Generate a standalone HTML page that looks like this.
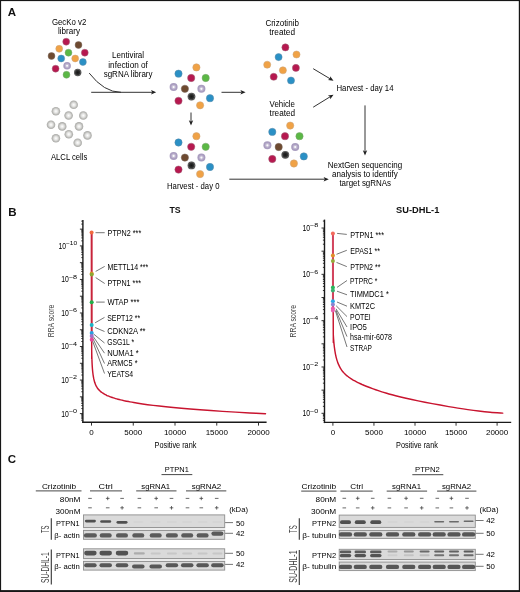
<!DOCTYPE html>
<html><head><meta charset="utf-8"><style>
html,body{margin:0;padding:0;background:#fff;}
body{width:520px;height:592px;overflow:hidden;font-family:"Liberation Sans", sans-serif;}
svg{display:block;will-change:transform;}
</style></head><body>
<svg width="520" height="592" viewBox="0 0 520 592" font-family='"Liberation Sans", sans-serif'>
<defs>
<radialGradient id="gg" cx="50%" cy="50%" r="50%"><stop offset="0" stop-color="#ffffff"/><stop offset="0.45" stop-color="#e2e2e0"/><stop offset="0.8" stop-color="#b9b9b6"/><stop offset="1" stop-color="#a9a9a6"/></radialGradient>
<radialGradient id="gk" cx="50%" cy="50%" r="50%"><stop offset="0" stop-color="#151515"/><stop offset="0.55" stop-color="#2e2e2e"/><stop offset="1" stop-color="#5a5a5a"/></radialGradient>
<filter id="blur2" x="-20%" y="-50%" width="140%" height="200%"><feGaussianBlur stdDeviation="0.4"/></filter>
</defs>
<rect x="0" y="0" width="520" height="592" fill="#fff"/>
<text x="7.80" y="15.80" font-size="11.5" font-weight="bold" fill="#111" >A</text>
<text x="8.20" y="216.00" font-size="11.5" font-weight="bold" fill="#111" >B</text>
<text x="7.80" y="462.90" font-size="11.5" font-weight="bold" fill="#111" >C</text>
<text x="51.90" y="25.10" font-size="8.2" textLength="34.40" lengthAdjust="spacingAndGlyphs" >GecKo v2</text>
<text x="58.00" y="34.20" font-size="8.2" textLength="22.10" lengthAdjust="spacingAndGlyphs" >library</text>
<text x="112.10" y="57.90" font-size="8.2" textLength="32.00" lengthAdjust="spacingAndGlyphs" >Lentiviral</text>
<text x="108.30" y="67.50" font-size="8.2" textLength="39.60" lengthAdjust="spacingAndGlyphs" >infection of</text>
<text x="103.70" y="76.70" font-size="8.2" textLength="48.80" lengthAdjust="spacingAndGlyphs" >sgRNA library</text>
<text x="51.00" y="159.90" font-size="8.2" textLength="36.30" lengthAdjust="spacingAndGlyphs" >ALCL cells</text>
<text x="167.00" y="189.10" font-size="8.2" textLength="52.50" lengthAdjust="spacingAndGlyphs" >Harvest - day 0</text>
<text x="265.40" y="25.60" font-size="8.2" textLength="33.50" lengthAdjust="spacingAndGlyphs" >Crizotinib</text>
<text x="269.30" y="34.90" font-size="8.2" textLength="25.70" lengthAdjust="spacingAndGlyphs" >treated</text>
<text x="269.60" y="106.80" font-size="8.2" textLength="25.40" lengthAdjust="spacingAndGlyphs" >Vehicle</text>
<text x="269.60" y="115.60" font-size="8.2" textLength="25.60" lengthAdjust="spacingAndGlyphs" >treated</text>
<text x="336.50" y="90.80" font-size="8.2" textLength="57.00" lengthAdjust="spacingAndGlyphs" >Harvest - day 14</text>
<text x="327.80" y="167.50" font-size="8.2" textLength="74.40" lengthAdjust="spacingAndGlyphs" >NextGen sequencing</text>
<text x="332.10" y="176.60" font-size="8.2" textLength="65.80" lengthAdjust="spacingAndGlyphs" >analysis to identify</text>
<text x="339.40" y="185.80" font-size="8.2" textLength="51.60" lengthAdjust="spacingAndGlyphs" >target sgRNAs</text>
<circle cx="66.20" cy="41.70" r="3.45" fill="#b6184f" stroke="#a0667a" stroke-width="0.5"/>
<circle cx="78.50" cy="45.00" r="3.45" fill="#6e4a30" stroke="#7a6a60" stroke-width="0.5"/>
<circle cx="59.20" cy="48.80" r="3.45" fill="#f0a246" stroke="#c9a27a" stroke-width="0.5"/>
<circle cx="68.50" cy="52.70" r="3.45" fill="#5bb845" stroke="#7aa070" stroke-width="0.5"/>
<circle cx="84.80" cy="52.70" r="3.45" fill="#b6184f" stroke="#a0667a" stroke-width="0.5"/>
<circle cx="51.50" cy="56.00" r="3.45" fill="#6e4a30" stroke="#7a6a60" stroke-width="0.5"/>
<circle cx="61.20" cy="58.50" r="3.45" fill="#2a90c5" stroke="#5e8aa8" stroke-width="0.5"/>
<circle cx="75.20" cy="58.50" r="3.45" fill="#f0a246" stroke="#c9a27a" stroke-width="0.5"/>
<circle cx="82.90" cy="62.00" r="3.45" fill="#2a90c5" stroke="#5e8aa8" stroke-width="0.5"/>
<circle cx="67.10" cy="65.80" r="3.80" fill="#a99dbf"/>
<circle cx="67.10" cy="65.80" r="2.22" fill="#c3bad3"/>
<circle cx="67.10" cy="65.80" r="1.04" fill="#fbfbfb"/>
<circle cx="55.60" cy="68.70" r="3.45" fill="#b6184f" stroke="#a0667a" stroke-width="0.5"/>
<circle cx="66.50" cy="74.80" r="3.45" fill="#5bb845" stroke="#7aa070" stroke-width="0.5"/>
<circle cx="77.70" cy="72.50" r="3.70" fill="url(#gk)"/>
<circle cx="77.70" cy="72.50" r="3.10" fill="none" stroke="#888" stroke-width="0.9" stroke-dasharray="0.6 0.9" opacity="0.8"/>
<circle cx="196.40" cy="67.40" r="3.65" fill="#f0a246" stroke="#c9a27a" stroke-width="0.5"/>
<circle cx="178.50" cy="73.70" r="3.65" fill="#2a90c5" stroke="#5e8aa8" stroke-width="0.5"/>
<circle cx="191.20" cy="78.00" r="3.65" fill="#b6184f" stroke="#a0667a" stroke-width="0.5"/>
<circle cx="205.70" cy="78.00" r="3.65" fill="#5bb845" stroke="#7aa070" stroke-width="0.5"/>
<circle cx="173.60" cy="87.10" r="4.00" fill="#a99dbf"/>
<circle cx="173.60" cy="87.10" r="2.34" fill="#c3bad3"/>
<circle cx="173.60" cy="87.10" r="1.09" fill="#fbfbfb"/>
<circle cx="184.90" cy="88.80" r="3.65" fill="#6e4a30" stroke="#7a6a60" stroke-width="0.5"/>
<circle cx="201.40" cy="88.80" r="4.00" fill="#a99dbf"/>
<circle cx="201.40" cy="88.80" r="2.34" fill="#c3bad3"/>
<circle cx="201.40" cy="88.80" r="1.09" fill="#fbfbfb"/>
<circle cx="191.50" cy="96.60" r="3.90" fill="url(#gk)"/>
<circle cx="191.50" cy="96.60" r="3.30" fill="none" stroke="#888" stroke-width="0.9" stroke-dasharray="0.6 0.9" opacity="0.8"/>
<circle cx="178.50" cy="100.80" r="3.65" fill="#b6184f" stroke="#a0667a" stroke-width="0.5"/>
<circle cx="210.00" cy="98.20" r="3.65" fill="#2a90c5" stroke="#5e8aa8" stroke-width="0.5"/>
<circle cx="200.10" cy="105.30" r="3.65" fill="#f0a246" stroke="#c9a27a" stroke-width="0.5"/>
<circle cx="196.40" cy="136.20" r="3.65" fill="#f0a246" stroke="#c9a27a" stroke-width="0.5"/>
<circle cx="178.50" cy="142.50" r="3.65" fill="#2a90c5" stroke="#5e8aa8" stroke-width="0.5"/>
<circle cx="191.20" cy="146.80" r="3.65" fill="#b6184f" stroke="#a0667a" stroke-width="0.5"/>
<circle cx="205.70" cy="146.80" r="3.65" fill="#5bb845" stroke="#7aa070" stroke-width="0.5"/>
<circle cx="173.60" cy="155.90" r="4.00" fill="#a99dbf"/>
<circle cx="173.60" cy="155.90" r="2.34" fill="#c3bad3"/>
<circle cx="173.60" cy="155.90" r="1.09" fill="#fbfbfb"/>
<circle cx="184.90" cy="157.60" r="3.65" fill="#6e4a30" stroke="#7a6a60" stroke-width="0.5"/>
<circle cx="201.40" cy="157.60" r="4.00" fill="#a99dbf"/>
<circle cx="201.40" cy="157.60" r="2.34" fill="#c3bad3"/>
<circle cx="201.40" cy="157.60" r="1.09" fill="#fbfbfb"/>
<circle cx="191.50" cy="165.40" r="3.90" fill="url(#gk)"/>
<circle cx="191.50" cy="165.40" r="3.30" fill="none" stroke="#888" stroke-width="0.9" stroke-dasharray="0.6 0.9" opacity="0.8"/>
<circle cx="178.50" cy="169.60" r="3.65" fill="#b6184f" stroke="#a0667a" stroke-width="0.5"/>
<circle cx="210.00" cy="167.00" r="3.65" fill="#2a90c5" stroke="#5e8aa8" stroke-width="0.5"/>
<circle cx="200.10" cy="174.10" r="3.65" fill="#f0a246" stroke="#c9a27a" stroke-width="0.5"/>
<circle cx="290.20" cy="125.60" r="3.65" fill="#f0a246" stroke="#c9a27a" stroke-width="0.5"/>
<circle cx="272.30" cy="131.90" r="3.65" fill="#2a90c5" stroke="#5e8aa8" stroke-width="0.5"/>
<circle cx="285.00" cy="136.20" r="3.65" fill="#b6184f" stroke="#a0667a" stroke-width="0.5"/>
<circle cx="299.50" cy="136.20" r="3.65" fill="#5bb845" stroke="#7aa070" stroke-width="0.5"/>
<circle cx="267.40" cy="145.30" r="4.00" fill="#a99dbf"/>
<circle cx="267.40" cy="145.30" r="2.34" fill="#c3bad3"/>
<circle cx="267.40" cy="145.30" r="1.09" fill="#fbfbfb"/>
<circle cx="278.70" cy="147.00" r="3.65" fill="#6e4a30" stroke="#7a6a60" stroke-width="0.5"/>
<circle cx="295.20" cy="147.00" r="4.00" fill="#a99dbf"/>
<circle cx="295.20" cy="147.00" r="2.34" fill="#c3bad3"/>
<circle cx="295.20" cy="147.00" r="1.09" fill="#fbfbfb"/>
<circle cx="285.30" cy="154.80" r="3.90" fill="url(#gk)"/>
<circle cx="285.30" cy="154.80" r="3.30" fill="none" stroke="#888" stroke-width="0.9" stroke-dasharray="0.6 0.9" opacity="0.8"/>
<circle cx="272.30" cy="159.00" r="3.65" fill="#b6184f" stroke="#a0667a" stroke-width="0.5"/>
<circle cx="303.80" cy="156.40" r="3.65" fill="#2a90c5" stroke="#5e8aa8" stroke-width="0.5"/>
<circle cx="293.90" cy="163.50" r="3.65" fill="#f0a246" stroke="#c9a27a" stroke-width="0.5"/>
<circle cx="285.40" cy="47.40" r="3.55" fill="#b6184f" stroke="#a0667a" stroke-width="0.5"/>
<circle cx="296.50" cy="54.50" r="3.55" fill="#f0a246" stroke="#c9a27a" stroke-width="0.5"/>
<circle cx="278.60" cy="57.10" r="3.55" fill="#2a90c5" stroke="#5e8aa8" stroke-width="0.5"/>
<circle cx="267.20" cy="64.70" r="3.55" fill="#f0a246" stroke="#c9a27a" stroke-width="0.5"/>
<circle cx="282.90" cy="70.30" r="3.55" fill="#f0a246" stroke="#c9a27a" stroke-width="0.5"/>
<circle cx="295.90" cy="67.90" r="3.55" fill="#b6184f" stroke="#a0667a" stroke-width="0.5"/>
<circle cx="273.70" cy="76.80" r="3.55" fill="#b6184f" stroke="#a0667a" stroke-width="0.5"/>
<circle cx="291.00" cy="80.50" r="3.55" fill="#2a90c5" stroke="#5e8aa8" stroke-width="0.5"/>
<circle cx="73.70" cy="104.80" r="4.3" fill="url(#gg)"/>
<circle cx="55.90" cy="111.20" r="4.3" fill="url(#gg)"/>
<circle cx="68.60" cy="115.50" r="4.3" fill="url(#gg)"/>
<circle cx="83.30" cy="115.50" r="4.3" fill="url(#gg)"/>
<circle cx="51.00" cy="124.70" r="4.3" fill="url(#gg)"/>
<circle cx="62.20" cy="126.40" r="4.3" fill="url(#gg)"/>
<circle cx="79.00" cy="126.40" r="4.3" fill="url(#gg)"/>
<circle cx="68.80" cy="134.20" r="4.3" fill="url(#gg)"/>
<circle cx="55.90" cy="138.30" r="4.3" fill="url(#gg)"/>
<circle cx="87.50" cy="135.40" r="4.3" fill="url(#gg)"/>
<circle cx="77.70" cy="142.70" r="4.3" fill="url(#gg)"/>
<path d="M89.2,73.1 Q104,92.3 121,92.3" fill="none" stroke="#333" stroke-width="1"/>
<line x1="91.20" y1="92.30" x2="152.20" y2="92.30" stroke="#333" stroke-width="1.0" />
<path d="M156.20,92.30 L151.00,94.50 L152.20,92.30 L151.00,90.10 Z" fill="#1e1e1e"/>
<line x1="221.50" y1="92.30" x2="241.60" y2="92.30" stroke="#333" stroke-width="1.0" />
<path d="M245.60,92.30 L240.40,94.50 L241.60,92.30 L240.40,90.10 Z" fill="#1e1e1e"/>
<line x1="191.00" y1="112.50" x2="191.00" y2="121.40" stroke="#333" stroke-width="1.0" />
<path d="M191.00,125.40 L188.80,120.20 L191.00,121.40 L193.20,120.20 Z" fill="#1e1e1e"/>
<line x1="313.20" y1="68.70" x2="330.06" y2="78.75" stroke="#333" stroke-width="1.0" />
<path d="M333.50,80.80 L327.91,80.03 L330.06,78.75 L330.16,76.25 Z" fill="#1e1e1e"/>
<line x1="313.20" y1="107.20" x2="330.09" y2="96.80" stroke="#333" stroke-width="1.0" />
<path d="M333.50,94.70 L330.23,99.30 L330.09,96.80 L327.92,95.55 Z" fill="#1e1e1e"/>
<line x1="365.00" y1="105.40" x2="365.00" y2="151.50" stroke="#333" stroke-width="1.0" />
<path d="M365.00,155.50 L362.80,150.30 L365.00,151.50 L367.20,150.30 Z" fill="#1e1e1e"/>
<line x1="229.30" y1="179.20" x2="324.80" y2="179.20" stroke="#333" stroke-width="1.0" />
<path d="M328.80,179.20 L323.60,181.40 L324.80,179.20 L323.60,177.00 Z" fill="#1e1e1e"/>
<text x="169.40" y="212.70" font-size="9.6" textLength="11.20" lengthAdjust="spacingAndGlyphs" font-weight="bold" fill="#111" >TS</text>
<text x="396.00" y="212.70" font-size="9.6" textLength="43.40" lengthAdjust="spacingAndGlyphs" font-weight="bold" fill="#111" >SU-DHL-1</text>
<line x1="82.90" y1="220.00" x2="82.90" y2="423.00" stroke="#1a1a1a" stroke-width="1.4" />
<line x1="82.20" y1="422.30" x2="266.60" y2="422.30" stroke="#1a1a1a" stroke-width="1.4" />
<line x1="79.90" y1="229.13" x2="82.90" y2="229.13" stroke="#1a1a1a" stroke-width="0.9" />
<line x1="81.30" y1="224.08" x2="82.90" y2="224.08" stroke="#1a1a1a" stroke-width="0.9" />
<line x1="81.30" y1="221.13" x2="82.90" y2="221.13" stroke="#1a1a1a" stroke-width="0.9" />
<line x1="79.90" y1="245.90" x2="82.90" y2="245.90" stroke="#1a1a1a" stroke-width="0.9" />
<line x1="81.30" y1="240.85" x2="82.90" y2="240.85" stroke="#1a1a1a" stroke-width="0.9" />
<line x1="81.30" y1="237.90" x2="82.90" y2="237.90" stroke="#1a1a1a" stroke-width="0.9" />
<line x1="81.30" y1="235.80" x2="82.90" y2="235.80" stroke="#1a1a1a" stroke-width="0.9" />
<line x1="81.30" y1="234.18" x2="82.90" y2="234.18" stroke="#1a1a1a" stroke-width="0.9" />
<line x1="81.30" y1="232.85" x2="82.90" y2="232.85" stroke="#1a1a1a" stroke-width="0.9" />
<line x1="81.30" y1="231.73" x2="82.90" y2="231.73" stroke="#1a1a1a" stroke-width="0.9" />
<line x1="81.30" y1="230.76" x2="82.90" y2="230.76" stroke="#1a1a1a" stroke-width="0.9" />
<line x1="81.30" y1="229.90" x2="82.90" y2="229.90" stroke="#1a1a1a" stroke-width="0.9" />
<line x1="79.90" y1="262.67" x2="82.90" y2="262.67" stroke="#1a1a1a" stroke-width="0.9" />
<line x1="81.30" y1="257.62" x2="82.90" y2="257.62" stroke="#1a1a1a" stroke-width="0.9" />
<line x1="81.30" y1="254.67" x2="82.90" y2="254.67" stroke="#1a1a1a" stroke-width="0.9" />
<line x1="81.30" y1="252.57" x2="82.90" y2="252.57" stroke="#1a1a1a" stroke-width="0.9" />
<line x1="81.30" y1="250.95" x2="82.90" y2="250.95" stroke="#1a1a1a" stroke-width="0.9" />
<line x1="81.30" y1="249.62" x2="82.90" y2="249.62" stroke="#1a1a1a" stroke-width="0.9" />
<line x1="81.30" y1="248.50" x2="82.90" y2="248.50" stroke="#1a1a1a" stroke-width="0.9" />
<line x1="81.30" y1="247.53" x2="82.90" y2="247.53" stroke="#1a1a1a" stroke-width="0.9" />
<line x1="81.30" y1="246.67" x2="82.90" y2="246.67" stroke="#1a1a1a" stroke-width="0.9" />
<line x1="79.90" y1="279.44" x2="82.90" y2="279.44" stroke="#1a1a1a" stroke-width="0.9" />
<line x1="81.30" y1="274.39" x2="82.90" y2="274.39" stroke="#1a1a1a" stroke-width="0.9" />
<line x1="81.30" y1="271.44" x2="82.90" y2="271.44" stroke="#1a1a1a" stroke-width="0.9" />
<line x1="81.30" y1="269.34" x2="82.90" y2="269.34" stroke="#1a1a1a" stroke-width="0.9" />
<line x1="81.30" y1="267.72" x2="82.90" y2="267.72" stroke="#1a1a1a" stroke-width="0.9" />
<line x1="81.30" y1="266.39" x2="82.90" y2="266.39" stroke="#1a1a1a" stroke-width="0.9" />
<line x1="81.30" y1="265.27" x2="82.90" y2="265.27" stroke="#1a1a1a" stroke-width="0.9" />
<line x1="81.30" y1="264.30" x2="82.90" y2="264.30" stroke="#1a1a1a" stroke-width="0.9" />
<line x1="81.30" y1="263.44" x2="82.90" y2="263.44" stroke="#1a1a1a" stroke-width="0.9" />
<line x1="79.90" y1="296.21" x2="82.90" y2="296.21" stroke="#1a1a1a" stroke-width="0.9" />
<line x1="81.30" y1="291.16" x2="82.90" y2="291.16" stroke="#1a1a1a" stroke-width="0.9" />
<line x1="81.30" y1="288.21" x2="82.90" y2="288.21" stroke="#1a1a1a" stroke-width="0.9" />
<line x1="81.30" y1="286.11" x2="82.90" y2="286.11" stroke="#1a1a1a" stroke-width="0.9" />
<line x1="81.30" y1="284.49" x2="82.90" y2="284.49" stroke="#1a1a1a" stroke-width="0.9" />
<line x1="81.30" y1="283.16" x2="82.90" y2="283.16" stroke="#1a1a1a" stroke-width="0.9" />
<line x1="81.30" y1="282.04" x2="82.90" y2="282.04" stroke="#1a1a1a" stroke-width="0.9" />
<line x1="81.30" y1="281.07" x2="82.90" y2="281.07" stroke="#1a1a1a" stroke-width="0.9" />
<line x1="81.30" y1="280.21" x2="82.90" y2="280.21" stroke="#1a1a1a" stroke-width="0.9" />
<line x1="79.90" y1="312.98" x2="82.90" y2="312.98" stroke="#1a1a1a" stroke-width="0.9" />
<line x1="81.30" y1="307.93" x2="82.90" y2="307.93" stroke="#1a1a1a" stroke-width="0.9" />
<line x1="81.30" y1="304.98" x2="82.90" y2="304.98" stroke="#1a1a1a" stroke-width="0.9" />
<line x1="81.30" y1="302.88" x2="82.90" y2="302.88" stroke="#1a1a1a" stroke-width="0.9" />
<line x1="81.30" y1="301.26" x2="82.90" y2="301.26" stroke="#1a1a1a" stroke-width="0.9" />
<line x1="81.30" y1="299.93" x2="82.90" y2="299.93" stroke="#1a1a1a" stroke-width="0.9" />
<line x1="81.30" y1="298.81" x2="82.90" y2="298.81" stroke="#1a1a1a" stroke-width="0.9" />
<line x1="81.30" y1="297.84" x2="82.90" y2="297.84" stroke="#1a1a1a" stroke-width="0.9" />
<line x1="81.30" y1="296.98" x2="82.90" y2="296.98" stroke="#1a1a1a" stroke-width="0.9" />
<line x1="79.90" y1="329.75" x2="82.90" y2="329.75" stroke="#1a1a1a" stroke-width="0.9" />
<line x1="81.30" y1="324.70" x2="82.90" y2="324.70" stroke="#1a1a1a" stroke-width="0.9" />
<line x1="81.30" y1="321.75" x2="82.90" y2="321.75" stroke="#1a1a1a" stroke-width="0.9" />
<line x1="81.30" y1="319.65" x2="82.90" y2="319.65" stroke="#1a1a1a" stroke-width="0.9" />
<line x1="81.30" y1="318.03" x2="82.90" y2="318.03" stroke="#1a1a1a" stroke-width="0.9" />
<line x1="81.30" y1="316.70" x2="82.90" y2="316.70" stroke="#1a1a1a" stroke-width="0.9" />
<line x1="81.30" y1="315.58" x2="82.90" y2="315.58" stroke="#1a1a1a" stroke-width="0.9" />
<line x1="81.30" y1="314.61" x2="82.90" y2="314.61" stroke="#1a1a1a" stroke-width="0.9" />
<line x1="81.30" y1="313.75" x2="82.90" y2="313.75" stroke="#1a1a1a" stroke-width="0.9" />
<line x1="79.90" y1="346.52" x2="82.90" y2="346.52" stroke="#1a1a1a" stroke-width="0.9" />
<line x1="81.30" y1="341.47" x2="82.90" y2="341.47" stroke="#1a1a1a" stroke-width="0.9" />
<line x1="81.30" y1="338.52" x2="82.90" y2="338.52" stroke="#1a1a1a" stroke-width="0.9" />
<line x1="81.30" y1="336.42" x2="82.90" y2="336.42" stroke="#1a1a1a" stroke-width="0.9" />
<line x1="81.30" y1="334.80" x2="82.90" y2="334.80" stroke="#1a1a1a" stroke-width="0.9" />
<line x1="81.30" y1="333.47" x2="82.90" y2="333.47" stroke="#1a1a1a" stroke-width="0.9" />
<line x1="81.30" y1="332.35" x2="82.90" y2="332.35" stroke="#1a1a1a" stroke-width="0.9" />
<line x1="81.30" y1="331.38" x2="82.90" y2="331.38" stroke="#1a1a1a" stroke-width="0.9" />
<line x1="81.30" y1="330.52" x2="82.90" y2="330.52" stroke="#1a1a1a" stroke-width="0.9" />
<line x1="79.90" y1="363.29" x2="82.90" y2="363.29" stroke="#1a1a1a" stroke-width="0.9" />
<line x1="81.30" y1="358.24" x2="82.90" y2="358.24" stroke="#1a1a1a" stroke-width="0.9" />
<line x1="81.30" y1="355.29" x2="82.90" y2="355.29" stroke="#1a1a1a" stroke-width="0.9" />
<line x1="81.30" y1="353.19" x2="82.90" y2="353.19" stroke="#1a1a1a" stroke-width="0.9" />
<line x1="81.30" y1="351.57" x2="82.90" y2="351.57" stroke="#1a1a1a" stroke-width="0.9" />
<line x1="81.30" y1="350.24" x2="82.90" y2="350.24" stroke="#1a1a1a" stroke-width="0.9" />
<line x1="81.30" y1="349.12" x2="82.90" y2="349.12" stroke="#1a1a1a" stroke-width="0.9" />
<line x1="81.30" y1="348.15" x2="82.90" y2="348.15" stroke="#1a1a1a" stroke-width="0.9" />
<line x1="81.30" y1="347.29" x2="82.90" y2="347.29" stroke="#1a1a1a" stroke-width="0.9" />
<line x1="79.90" y1="380.06" x2="82.90" y2="380.06" stroke="#1a1a1a" stroke-width="0.9" />
<line x1="81.30" y1="375.01" x2="82.90" y2="375.01" stroke="#1a1a1a" stroke-width="0.9" />
<line x1="81.30" y1="372.06" x2="82.90" y2="372.06" stroke="#1a1a1a" stroke-width="0.9" />
<line x1="81.30" y1="369.96" x2="82.90" y2="369.96" stroke="#1a1a1a" stroke-width="0.9" />
<line x1="81.30" y1="368.34" x2="82.90" y2="368.34" stroke="#1a1a1a" stroke-width="0.9" />
<line x1="81.30" y1="367.01" x2="82.90" y2="367.01" stroke="#1a1a1a" stroke-width="0.9" />
<line x1="81.30" y1="365.89" x2="82.90" y2="365.89" stroke="#1a1a1a" stroke-width="0.9" />
<line x1="81.30" y1="364.92" x2="82.90" y2="364.92" stroke="#1a1a1a" stroke-width="0.9" />
<line x1="81.30" y1="364.06" x2="82.90" y2="364.06" stroke="#1a1a1a" stroke-width="0.9" />
<line x1="79.90" y1="396.83" x2="82.90" y2="396.83" stroke="#1a1a1a" stroke-width="0.9" />
<line x1="81.30" y1="391.78" x2="82.90" y2="391.78" stroke="#1a1a1a" stroke-width="0.9" />
<line x1="81.30" y1="388.83" x2="82.90" y2="388.83" stroke="#1a1a1a" stroke-width="0.9" />
<line x1="81.30" y1="386.73" x2="82.90" y2="386.73" stroke="#1a1a1a" stroke-width="0.9" />
<line x1="81.30" y1="385.11" x2="82.90" y2="385.11" stroke="#1a1a1a" stroke-width="0.9" />
<line x1="81.30" y1="383.78" x2="82.90" y2="383.78" stroke="#1a1a1a" stroke-width="0.9" />
<line x1="81.30" y1="382.66" x2="82.90" y2="382.66" stroke="#1a1a1a" stroke-width="0.9" />
<line x1="81.30" y1="381.69" x2="82.90" y2="381.69" stroke="#1a1a1a" stroke-width="0.9" />
<line x1="81.30" y1="380.83" x2="82.90" y2="380.83" stroke="#1a1a1a" stroke-width="0.9" />
<line x1="79.90" y1="413.60" x2="82.90" y2="413.60" stroke="#1a1a1a" stroke-width="0.9" />
<line x1="81.30" y1="408.55" x2="82.90" y2="408.55" stroke="#1a1a1a" stroke-width="0.9" />
<line x1="81.30" y1="405.60" x2="82.90" y2="405.60" stroke="#1a1a1a" stroke-width="0.9" />
<line x1="81.30" y1="403.50" x2="82.90" y2="403.50" stroke="#1a1a1a" stroke-width="0.9" />
<line x1="81.30" y1="401.88" x2="82.90" y2="401.88" stroke="#1a1a1a" stroke-width="0.9" />
<line x1="81.30" y1="400.55" x2="82.90" y2="400.55" stroke="#1a1a1a" stroke-width="0.9" />
<line x1="81.30" y1="399.43" x2="82.90" y2="399.43" stroke="#1a1a1a" stroke-width="0.9" />
<line x1="81.30" y1="398.46" x2="82.90" y2="398.46" stroke="#1a1a1a" stroke-width="0.9" />
<line x1="81.30" y1="397.60" x2="82.90" y2="397.60" stroke="#1a1a1a" stroke-width="0.9" />
<line x1="81.30" y1="420.27" x2="82.90" y2="420.27" stroke="#1a1a1a" stroke-width="0.9" />
<line x1="81.30" y1="418.65" x2="82.90" y2="418.65" stroke="#1a1a1a" stroke-width="0.9" />
<line x1="81.30" y1="417.32" x2="82.90" y2="417.32" stroke="#1a1a1a" stroke-width="0.9" />
<line x1="81.30" y1="416.20" x2="82.90" y2="416.20" stroke="#1a1a1a" stroke-width="0.9" />
<line x1="81.30" y1="415.23" x2="82.90" y2="415.23" stroke="#1a1a1a" stroke-width="0.9" />
<line x1="81.30" y1="414.37" x2="82.90" y2="414.37" stroke="#1a1a1a" stroke-width="0.9" />
<text x="77.10" y="245.20" font-size="6.0" text-anchor="end" textLength="11.10" lengthAdjust="spacingAndGlyphs" >−10</text>
<text x="66.00" y="248.80" font-size="8.8" text-anchor="end" textLength="7.60" lengthAdjust="spacingAndGlyphs" >10</text>
<text x="77.10" y="278.74" font-size="6.0" text-anchor="end" textLength="8.20" lengthAdjust="spacingAndGlyphs" >−8</text>
<text x="68.90" y="282.34" font-size="8.8" text-anchor="end" textLength="7.60" lengthAdjust="spacingAndGlyphs" >10</text>
<text x="77.10" y="312.28" font-size="6.0" text-anchor="end" textLength="8.20" lengthAdjust="spacingAndGlyphs" >−6</text>
<text x="68.90" y="315.88" font-size="8.8" text-anchor="end" textLength="7.60" lengthAdjust="spacingAndGlyphs" >10</text>
<text x="77.10" y="345.82" font-size="6.0" text-anchor="end" textLength="8.20" lengthAdjust="spacingAndGlyphs" >−4</text>
<text x="68.90" y="349.42" font-size="8.8" text-anchor="end" textLength="7.60" lengthAdjust="spacingAndGlyphs" >10</text>
<text x="77.10" y="379.36" font-size="6.0" text-anchor="end" textLength="8.20" lengthAdjust="spacingAndGlyphs" >−2</text>
<text x="68.90" y="382.96" font-size="8.8" text-anchor="end" textLength="7.60" lengthAdjust="spacingAndGlyphs" >10</text>
<text x="77.10" y="412.90" font-size="6.0" text-anchor="end" textLength="8.20" lengthAdjust="spacingAndGlyphs" >−0</text>
<text x="68.90" y="416.50" font-size="8.8" text-anchor="end" textLength="7.60" lengthAdjust="spacingAndGlyphs" >10</text>
<line x1="91.50" y1="422.30" x2="91.50" y2="425.60" stroke="#1a1a1a" stroke-width="0.9" />
<text x="91.50" y="434.50" font-size="8.0" text-anchor="middle" >0</text>
<line x1="133.25" y1="422.30" x2="133.25" y2="425.60" stroke="#1a1a1a" stroke-width="0.9" />
<text x="133.25" y="434.50" font-size="8.0" text-anchor="middle" >5000</text>
<line x1="175.00" y1="422.30" x2="175.00" y2="425.60" stroke="#1a1a1a" stroke-width="0.9" />
<text x="175.00" y="434.50" font-size="8.0" text-anchor="middle" >10000</text>
<line x1="216.75" y1="422.30" x2="216.75" y2="425.60" stroke="#1a1a1a" stroke-width="0.9" />
<text x="216.75" y="434.50" font-size="8.0" text-anchor="middle" >15000</text>
<line x1="258.50" y1="422.30" x2="258.50" y2="425.60" stroke="#1a1a1a" stroke-width="0.9" />
<text x="258.50" y="434.50" font-size="8.0" text-anchor="middle" >20000</text>
<text x="175.50" y="448.10" font-size="8.2" text-anchor="middle" textLength="41.80" lengthAdjust="spacingAndGlyphs" >Positive rank</text>
<text x="0" y="0" font-size="8.2" text-anchor="middle" fill="#444444" transform="translate(54.30,321.00) rotate(-90)" textLength="32.4" lengthAdjust="spacingAndGlyphs">RRA score</text>
<path d="M91.60,232.60 C91.62,252.15 91.68,330.25 91.70,349.91 C91.72,369.56 91.71,350.30 91.71,350.51 C91.71,350.72 91.72,350.93 91.72,351.15 C91.72,351.36 91.73,351.58 91.73,351.81 C91.74,352.04 91.74,352.27 91.75,352.50 C91.75,352.74 91.76,352.98 91.76,353.22 C91.77,353.47 91.77,353.71 91.78,353.97 C91.78,354.22 91.79,354.48 91.79,354.74 C91.80,355.00 91.81,355.26 91.81,355.53 C91.82,355.79 91.83,356.07 91.83,356.34 C91.84,356.61 91.85,356.89 91.86,357.17 C91.87,357.46 91.87,357.74 91.88,358.03 C91.89,358.31 91.90,358.61 91.91,358.90 C91.92,359.19 91.93,359.49 91.94,359.79 C91.95,360.08 91.96,360.39 91.98,360.69 C91.99,360.99 92.00,361.30 92.01,361.61 C92.03,361.91 92.04,362.22 92.05,362.54 C92.07,362.85 92.08,363.16 92.10,363.48 C92.11,363.79 92.13,364.11 92.15,364.43 C92.16,364.75 92.18,365.07 92.20,365.39 C92.22,365.71 92.24,366.04 92.26,366.36 C92.28,366.69 92.30,367.01 92.33,367.34 C92.35,367.67 92.37,367.99 92.40,368.32 C92.42,368.65 92.45,368.98 92.48,369.31 C92.51,369.64 92.53,369.97 92.56,370.30 C92.60,370.63 92.63,370.96 92.66,371.29 C92.69,371.62 92.73,371.95 92.77,372.28 C92.80,372.61 92.84,372.94 92.88,373.27 C92.92,373.60 92.96,373.93 93.01,374.26 C93.05,374.59 93.10,374.92 93.15,375.25 C93.20,375.57 93.25,375.90 93.30,376.23 C93.35,376.55 93.41,376.88 93.47,377.20 C93.53,377.53 93.59,377.85 93.65,378.17 C93.72,378.49 93.79,378.82 93.86,379.13 C93.93,379.45 94.00,379.77 94.08,380.09 C94.16,380.40 94.24,380.71 94.33,381.03 C94.41,381.34 94.50,381.65 94.60,381.96 C94.69,382.26 94.79,382.57 94.89,382.87 C95.00,383.17 95.11,383.48 95.22,383.77 C95.33,384.07 95.45,384.37 95.58,384.66 C95.70,384.95 95.83,385.24 95.97,385.53 C96.11,385.81 96.25,386.10 96.40,386.38 C96.56,386.66 96.71,386.94 96.88,387.21 C97.05,387.48 97.22,387.75 97.40,388.02 C97.59,388.29 97.78,388.55 97.98,388.81 C98.18,389.07 98.39,389.33 98.61,389.59 C98.83,389.84 99.06,390.09 99.30,390.34 C99.55,390.59 99.80,390.84 100.07,391.08 C100.33,391.33 100.61,391.57 100.91,391.81 C101.20,392.05 101.51,392.29 101.83,392.52 C102.15,392.76 102.49,392.99 102.84,393.22 C103.20,393.45 103.57,393.68 103.95,393.91 C104.34,394.14 104.75,394.37 105.18,394.60 C105.61,394.82 106.05,395.05 106.52,395.27 C106.99,395.49 107.48,395.72 108.00,395.94 C108.52,396.16 109.06,396.38 109.63,396.60 C110.19,396.82 110.79,397.04 111.41,397.26 C112.04,397.48 112.69,397.70 113.37,397.92 C114.06,398.14 114.78,398.36 115.53,398.58 C116.29,398.80 117.07,399.02 117.90,399.24 C118.73,399.46 119.59,399.68 120.51,399.90 C121.42,400.12 122.37,400.34 123.37,400.56 C124.37,400.78 125.41,401.01 126.52,401.23 C127.62,401.45 128.76,401.68 129.97,401.90 C131.18,402.13 132.45,402.36 133.77,402.58 C135.10,402.81 136.49,403.04 137.95,403.27 C139.41,403.50 140.94,403.73 142.54,403.96 C144.15,404.19 145.82,404.43 147.59,404.66 C149.35,404.89 151.19,405.13 153.13,405.37 C155.07,405.60 157.10,405.84 159.23,406.08 C161.36,406.32 163.58,406.56 165.93,406.81 C168.27,407.05 170.71,407.29 173.29,407.54 C175.87,407.78 178.55,408.03 181.38,408.28 C184.21,408.53 187.16,408.78 190.27,409.03 C193.38,409.28 196.63,409.54 200.05,409.79 C203.47,410.05 207.03,410.31 210.79,410.57 C214.55,410.83 218.46,411.09 222.59,411.35 C226.72,411.62 231.03,411.88 235.57,412.15 C240.11,412.42 244.84,412.69 249.83,412.96 C254.82,413.23 262.89,413.64 265.50,413.78" fill="none" stroke="#c8142f" stroke-width="1.45" stroke-linejoin="round" stroke-linecap="round"/>
<line x1="91.60" y1="232.60" x2="91.60" y2="340.00" stroke="#c8243a" stroke-width="1.7" />
<line x1="95.50" y1="232.70" x2="104.70" y2="232.70" stroke="#4a4a4a" stroke-width="0.75" />
<text x="107.60" y="235.50" font-size="8.2" textLength="33.60" lengthAdjust="spacingAndGlyphs" >PTPN2 ***</text>
<line x1="95.70" y1="271.40" x2="104.70" y2="266.40" stroke="#4a4a4a" stroke-width="0.75" />
<text x="107.40" y="269.80" font-size="8.2" textLength="40.80" lengthAdjust="spacingAndGlyphs" >METTL14 ***</text>
<line x1="95.70" y1="277.60" x2="104.70" y2="283.50" stroke="#4a4a4a" stroke-width="0.75" />
<text x="107.40" y="286.20" font-size="8.2" textLength="33.60" lengthAdjust="spacingAndGlyphs" >PTPN1 ***</text>
<line x1="96.10" y1="302.10" x2="104.70" y2="302.10" stroke="#4a4a4a" stroke-width="0.75" />
<text x="107.40" y="305.00" font-size="8.2" textLength="32.00" lengthAdjust="spacingAndGlyphs" >WTAP ***</text>
<line x1="95.10" y1="322.80" x2="104.50" y2="317.40" stroke="#4a4a4a" stroke-width="0.75" />
<text x="107.20" y="320.80" font-size="8.2" textLength="33.00" lengthAdjust="spacingAndGlyphs" >SEPT12 **</text>
<line x1="95.10" y1="327.50" x2="104.50" y2="331.50" stroke="#4a4a4a" stroke-width="0.75" />
<text x="107.20" y="334.20" font-size="8.2" textLength="38.40" lengthAdjust="spacingAndGlyphs" >CDKN2A **</text>
<line x1="93.60" y1="334.00" x2="104.50" y2="343.00" stroke="#4a4a4a" stroke-width="0.75" />
<text x="107.20" y="345.30" font-size="8.2" textLength="27.00" lengthAdjust="spacingAndGlyphs" >GSG1L *</text>
<line x1="93.20" y1="336.50" x2="104.50" y2="353.20" stroke="#4a4a4a" stroke-width="0.75" />
<text x="107.20" y="355.80" font-size="8.2" textLength="31.60" lengthAdjust="spacingAndGlyphs" >NUMA1 *</text>
<line x1="92.80" y1="338.20" x2="104.50" y2="363.50" stroke="#4a4a4a" stroke-width="0.75" />
<text x="107.20" y="366.30" font-size="8.2" textLength="30.30" lengthAdjust="spacingAndGlyphs" >ARMC5 *</text>
<line x1="92.40" y1="340.50" x2="104.50" y2="373.50" stroke="#4a4a4a" stroke-width="0.75" />
<text x="107.20" y="376.60" font-size="8.2" textLength="26.00" lengthAdjust="spacingAndGlyphs" >YEATS4</text>
<circle cx="91.60" cy="232.60" r="2.0" fill="#f06a40"/>
<circle cx="91.70" cy="273.40" r="2.0" fill="#e8902a"/>
<circle cx="91.70" cy="274.40" r="2.0" fill="#8aa832"/>
<circle cx="91.70" cy="302.20" r="2.0" fill="#22b04a"/>
<circle cx="91.70" cy="324.90" r="2.0" fill="#1ab8c8"/>
<circle cx="91.70" cy="333.10" r="2.0" fill="#2a9ee0"/>
<circle cx="91.70" cy="336.00" r="2.0" fill="#a070c8"/>
<circle cx="91.70" cy="339.70" r="2.0" fill="#e8489a"/>
<line x1="324.50" y1="219.60" x2="324.50" y2="423.10" stroke="#1a1a1a" stroke-width="1.4" />
<line x1="323.80" y1="422.40" x2="511.20" y2="422.40" stroke="#1a1a1a" stroke-width="1.4" />
<line x1="321.50" y1="228.02" x2="324.50" y2="228.02" stroke="#1a1a1a" stroke-width="0.9" />
<line x1="322.90" y1="221.05" x2="324.50" y2="221.05" stroke="#1a1a1a" stroke-width="0.9" />
<line x1="321.50" y1="251.18" x2="324.50" y2="251.18" stroke="#1a1a1a" stroke-width="0.9" />
<line x1="322.90" y1="244.21" x2="324.50" y2="244.21" stroke="#1a1a1a" stroke-width="0.9" />
<line x1="322.90" y1="240.13" x2="324.50" y2="240.13" stroke="#1a1a1a" stroke-width="0.9" />
<line x1="322.90" y1="237.24" x2="324.50" y2="237.24" stroke="#1a1a1a" stroke-width="0.9" />
<line x1="322.90" y1="234.99" x2="324.50" y2="234.99" stroke="#1a1a1a" stroke-width="0.9" />
<line x1="322.90" y1="233.16" x2="324.50" y2="233.16" stroke="#1a1a1a" stroke-width="0.9" />
<line x1="322.90" y1="231.61" x2="324.50" y2="231.61" stroke="#1a1a1a" stroke-width="0.9" />
<line x1="322.90" y1="230.26" x2="324.50" y2="230.26" stroke="#1a1a1a" stroke-width="0.9" />
<line x1="322.90" y1="229.08" x2="324.50" y2="229.08" stroke="#1a1a1a" stroke-width="0.9" />
<line x1="321.50" y1="274.34" x2="324.50" y2="274.34" stroke="#1a1a1a" stroke-width="0.9" />
<line x1="322.90" y1="267.37" x2="324.50" y2="267.37" stroke="#1a1a1a" stroke-width="0.9" />
<line x1="322.90" y1="263.29" x2="324.50" y2="263.29" stroke="#1a1a1a" stroke-width="0.9" />
<line x1="322.90" y1="260.40" x2="324.50" y2="260.40" stroke="#1a1a1a" stroke-width="0.9" />
<line x1="322.90" y1="258.15" x2="324.50" y2="258.15" stroke="#1a1a1a" stroke-width="0.9" />
<line x1="322.90" y1="256.32" x2="324.50" y2="256.32" stroke="#1a1a1a" stroke-width="0.9" />
<line x1="322.90" y1="254.77" x2="324.50" y2="254.77" stroke="#1a1a1a" stroke-width="0.9" />
<line x1="322.90" y1="253.42" x2="324.50" y2="253.42" stroke="#1a1a1a" stroke-width="0.9" />
<line x1="322.90" y1="252.24" x2="324.50" y2="252.24" stroke="#1a1a1a" stroke-width="0.9" />
<line x1="321.50" y1="297.50" x2="324.50" y2="297.50" stroke="#1a1a1a" stroke-width="0.9" />
<line x1="322.90" y1="290.53" x2="324.50" y2="290.53" stroke="#1a1a1a" stroke-width="0.9" />
<line x1="322.90" y1="286.45" x2="324.50" y2="286.45" stroke="#1a1a1a" stroke-width="0.9" />
<line x1="322.90" y1="283.56" x2="324.50" y2="283.56" stroke="#1a1a1a" stroke-width="0.9" />
<line x1="322.90" y1="281.31" x2="324.50" y2="281.31" stroke="#1a1a1a" stroke-width="0.9" />
<line x1="322.90" y1="279.48" x2="324.50" y2="279.48" stroke="#1a1a1a" stroke-width="0.9" />
<line x1="322.90" y1="277.93" x2="324.50" y2="277.93" stroke="#1a1a1a" stroke-width="0.9" />
<line x1="322.90" y1="276.58" x2="324.50" y2="276.58" stroke="#1a1a1a" stroke-width="0.9" />
<line x1="322.90" y1="275.40" x2="324.50" y2="275.40" stroke="#1a1a1a" stroke-width="0.9" />
<line x1="321.50" y1="320.66" x2="324.50" y2="320.66" stroke="#1a1a1a" stroke-width="0.9" />
<line x1="322.90" y1="313.69" x2="324.50" y2="313.69" stroke="#1a1a1a" stroke-width="0.9" />
<line x1="322.90" y1="309.61" x2="324.50" y2="309.61" stroke="#1a1a1a" stroke-width="0.9" />
<line x1="322.90" y1="306.72" x2="324.50" y2="306.72" stroke="#1a1a1a" stroke-width="0.9" />
<line x1="322.90" y1="304.47" x2="324.50" y2="304.47" stroke="#1a1a1a" stroke-width="0.9" />
<line x1="322.90" y1="302.64" x2="324.50" y2="302.64" stroke="#1a1a1a" stroke-width="0.9" />
<line x1="322.90" y1="301.09" x2="324.50" y2="301.09" stroke="#1a1a1a" stroke-width="0.9" />
<line x1="322.90" y1="299.74" x2="324.50" y2="299.74" stroke="#1a1a1a" stroke-width="0.9" />
<line x1="322.90" y1="298.56" x2="324.50" y2="298.56" stroke="#1a1a1a" stroke-width="0.9" />
<line x1="321.50" y1="343.82" x2="324.50" y2="343.82" stroke="#1a1a1a" stroke-width="0.9" />
<line x1="322.90" y1="336.85" x2="324.50" y2="336.85" stroke="#1a1a1a" stroke-width="0.9" />
<line x1="322.90" y1="332.77" x2="324.50" y2="332.77" stroke="#1a1a1a" stroke-width="0.9" />
<line x1="322.90" y1="329.88" x2="324.50" y2="329.88" stroke="#1a1a1a" stroke-width="0.9" />
<line x1="322.90" y1="327.63" x2="324.50" y2="327.63" stroke="#1a1a1a" stroke-width="0.9" />
<line x1="322.90" y1="325.80" x2="324.50" y2="325.80" stroke="#1a1a1a" stroke-width="0.9" />
<line x1="322.90" y1="324.25" x2="324.50" y2="324.25" stroke="#1a1a1a" stroke-width="0.9" />
<line x1="322.90" y1="322.90" x2="324.50" y2="322.90" stroke="#1a1a1a" stroke-width="0.9" />
<line x1="322.90" y1="321.72" x2="324.50" y2="321.72" stroke="#1a1a1a" stroke-width="0.9" />
<line x1="321.50" y1="366.98" x2="324.50" y2="366.98" stroke="#1a1a1a" stroke-width="0.9" />
<line x1="322.90" y1="360.01" x2="324.50" y2="360.01" stroke="#1a1a1a" stroke-width="0.9" />
<line x1="322.90" y1="355.93" x2="324.50" y2="355.93" stroke="#1a1a1a" stroke-width="0.9" />
<line x1="322.90" y1="353.04" x2="324.50" y2="353.04" stroke="#1a1a1a" stroke-width="0.9" />
<line x1="322.90" y1="350.79" x2="324.50" y2="350.79" stroke="#1a1a1a" stroke-width="0.9" />
<line x1="322.90" y1="348.96" x2="324.50" y2="348.96" stroke="#1a1a1a" stroke-width="0.9" />
<line x1="322.90" y1="347.41" x2="324.50" y2="347.41" stroke="#1a1a1a" stroke-width="0.9" />
<line x1="322.90" y1="346.06" x2="324.50" y2="346.06" stroke="#1a1a1a" stroke-width="0.9" />
<line x1="322.90" y1="344.88" x2="324.50" y2="344.88" stroke="#1a1a1a" stroke-width="0.9" />
<line x1="321.50" y1="390.14" x2="324.50" y2="390.14" stroke="#1a1a1a" stroke-width="0.9" />
<line x1="322.90" y1="383.17" x2="324.50" y2="383.17" stroke="#1a1a1a" stroke-width="0.9" />
<line x1="322.90" y1="379.09" x2="324.50" y2="379.09" stroke="#1a1a1a" stroke-width="0.9" />
<line x1="322.90" y1="376.20" x2="324.50" y2="376.20" stroke="#1a1a1a" stroke-width="0.9" />
<line x1="322.90" y1="373.95" x2="324.50" y2="373.95" stroke="#1a1a1a" stroke-width="0.9" />
<line x1="322.90" y1="372.12" x2="324.50" y2="372.12" stroke="#1a1a1a" stroke-width="0.9" />
<line x1="322.90" y1="370.57" x2="324.50" y2="370.57" stroke="#1a1a1a" stroke-width="0.9" />
<line x1="322.90" y1="369.22" x2="324.50" y2="369.22" stroke="#1a1a1a" stroke-width="0.9" />
<line x1="322.90" y1="368.04" x2="324.50" y2="368.04" stroke="#1a1a1a" stroke-width="0.9" />
<line x1="321.50" y1="413.30" x2="324.50" y2="413.30" stroke="#1a1a1a" stroke-width="0.9" />
<line x1="322.90" y1="406.33" x2="324.50" y2="406.33" stroke="#1a1a1a" stroke-width="0.9" />
<line x1="322.90" y1="402.25" x2="324.50" y2="402.25" stroke="#1a1a1a" stroke-width="0.9" />
<line x1="322.90" y1="399.36" x2="324.50" y2="399.36" stroke="#1a1a1a" stroke-width="0.9" />
<line x1="322.90" y1="397.11" x2="324.50" y2="397.11" stroke="#1a1a1a" stroke-width="0.9" />
<line x1="322.90" y1="395.28" x2="324.50" y2="395.28" stroke="#1a1a1a" stroke-width="0.9" />
<line x1="322.90" y1="393.73" x2="324.50" y2="393.73" stroke="#1a1a1a" stroke-width="0.9" />
<line x1="322.90" y1="392.38" x2="324.50" y2="392.38" stroke="#1a1a1a" stroke-width="0.9" />
<line x1="322.90" y1="391.20" x2="324.50" y2="391.20" stroke="#1a1a1a" stroke-width="0.9" />
<line x1="322.90" y1="420.27" x2="324.50" y2="420.27" stroke="#1a1a1a" stroke-width="0.9" />
<line x1="322.90" y1="418.44" x2="324.50" y2="418.44" stroke="#1a1a1a" stroke-width="0.9" />
<line x1="322.90" y1="416.89" x2="324.50" y2="416.89" stroke="#1a1a1a" stroke-width="0.9" />
<line x1="322.90" y1="415.54" x2="324.50" y2="415.54" stroke="#1a1a1a" stroke-width="0.9" />
<line x1="322.90" y1="414.36" x2="324.50" y2="414.36" stroke="#1a1a1a" stroke-width="0.9" />
<text x="318.30" y="227.32" font-size="6.0" text-anchor="end" textLength="8.20" lengthAdjust="spacingAndGlyphs" >−8</text>
<text x="310.10" y="230.92" font-size="8.8" text-anchor="end" textLength="7.60" lengthAdjust="spacingAndGlyphs" >10</text>
<text x="318.30" y="273.64" font-size="6.0" text-anchor="end" textLength="8.20" lengthAdjust="spacingAndGlyphs" >−6</text>
<text x="310.10" y="277.24" font-size="8.8" text-anchor="end" textLength="7.60" lengthAdjust="spacingAndGlyphs" >10</text>
<text x="318.30" y="319.96" font-size="6.0" text-anchor="end" textLength="8.20" lengthAdjust="spacingAndGlyphs" >−4</text>
<text x="310.10" y="323.56" font-size="8.8" text-anchor="end" textLength="7.60" lengthAdjust="spacingAndGlyphs" >10</text>
<text x="318.30" y="366.28" font-size="6.0" text-anchor="end" textLength="8.20" lengthAdjust="spacingAndGlyphs" >−2</text>
<text x="310.10" y="369.88" font-size="8.8" text-anchor="end" textLength="7.60" lengthAdjust="spacingAndGlyphs" >10</text>
<text x="318.30" y="412.60" font-size="6.0" text-anchor="end" textLength="8.20" lengthAdjust="spacingAndGlyphs" >−0</text>
<text x="310.10" y="416.20" font-size="8.8" text-anchor="end" textLength="7.60" lengthAdjust="spacingAndGlyphs" >10</text>
<line x1="332.90" y1="422.40" x2="332.90" y2="425.70" stroke="#1a1a1a" stroke-width="0.9" />
<text x="332.90" y="434.60" font-size="8.0" text-anchor="middle" >0</text>
<line x1="373.95" y1="422.40" x2="373.95" y2="425.70" stroke="#1a1a1a" stroke-width="0.9" />
<text x="373.95" y="434.60" font-size="8.0" text-anchor="middle" >5000</text>
<line x1="415.00" y1="422.40" x2="415.00" y2="425.70" stroke="#1a1a1a" stroke-width="0.9" />
<text x="415.00" y="434.60" font-size="8.0" text-anchor="middle" >10000</text>
<line x1="456.05" y1="422.40" x2="456.05" y2="425.70" stroke="#1a1a1a" stroke-width="0.9" />
<text x="456.05" y="434.60" font-size="8.0" text-anchor="middle" >15000</text>
<line x1="497.10" y1="422.40" x2="497.10" y2="425.70" stroke="#1a1a1a" stroke-width="0.9" />
<text x="497.10" y="434.60" font-size="8.0" text-anchor="middle" >20000</text>
<text x="417.00" y="448.20" font-size="8.2" text-anchor="middle" textLength="41.80" lengthAdjust="spacingAndGlyphs" >Positive rank</text>
<text x="0" y="0" font-size="8.2" text-anchor="middle" fill="#444444" transform="translate(296.40,321.20) rotate(-90)" textLength="32.4" lengthAdjust="spacingAndGlyphs">RRA score</text>
<path d="M332.90,233.20 C332.97,250.14 333.23,317.80 333.30,334.82 C333.37,351.84 333.32,335.14 333.33,335.31 C333.34,335.48 333.35,335.66 333.37,335.84 C333.38,336.02 333.39,336.21 333.40,336.40 C333.42,336.60 333.43,336.79 333.44,337.00 C333.46,337.20 333.47,337.41 333.49,337.62 C333.50,337.83 333.52,338.05 333.53,338.28 C333.55,338.50 333.57,338.73 333.58,338.96 C333.60,339.19 333.62,339.43 333.64,339.67 C333.66,339.91 333.68,340.16 333.70,340.41 C333.72,340.66 333.74,340.91 333.76,341.17 C333.78,341.43 333.81,341.69 333.83,341.95 C333.85,342.22 333.88,342.49 333.90,342.76 C333.93,343.04 333.95,343.31 333.98,343.59 C334.01,343.87 334.04,344.16 334.07,344.44 C334.10,344.73 334.13,345.02 334.16,345.31 C334.19,345.61 334.23,345.90 334.26,346.20 C334.30,346.50 334.33,346.80 334.37,347.11 C334.41,347.41 334.45,347.72 334.49,348.03 C334.53,348.34 334.57,348.65 334.61,348.96 C334.66,349.28 334.70,349.59 334.75,349.91 C334.80,350.23 334.85,350.55 334.90,350.87 C334.95,351.19 335.00,351.52 335.06,351.84 C335.11,352.17 335.17,352.49 335.23,352.82 C335.29,353.15 335.35,353.48 335.41,353.81 C335.48,354.14 335.54,354.47 335.61,354.81 C335.68,355.14 335.76,355.47 335.83,355.81 C335.91,356.14 335.98,356.48 336.06,356.82 C336.14,357.15 336.23,357.49 336.32,357.83 C336.40,358.16 336.49,358.50 336.59,358.84 C336.68,359.18 336.78,359.52 336.88,359.86 C336.98,360.19 337.09,360.53 337.20,360.87 C337.31,361.21 337.42,361.55 337.54,361.88 C337.66,362.22 337.78,362.56 337.91,362.90 C338.04,363.23 338.17,363.57 338.31,363.90 C338.45,364.24 338.59,364.57 338.74,364.91 C338.89,365.24 339.04,365.57 339.20,365.91 C339.36,366.24 339.53,366.57 339.71,366.90 C339.88,367.23 340.06,367.55 340.25,367.88 C340.43,368.21 340.63,368.53 340.83,368.85 C341.03,369.17 341.24,369.50 341.46,369.81 C341.68,370.13 341.91,370.45 342.14,370.77 C342.38,371.08 342.63,371.39 342.88,371.70 C343.14,372.01 343.40,372.32 343.68,372.63 C343.95,372.93 344.24,373.24 344.53,373.54 C344.83,373.84 345.14,374.14 345.46,374.44 C345.78,374.74 346.11,375.04 346.46,375.33 C346.81,375.63 347.16,375.93 347.54,376.22 C347.91,376.52 348.30,376.81 348.70,377.11 C349.11,377.40 349.53,377.70 349.96,378.00 C350.40,378.29 350.85,378.59 351.32,378.89 C351.79,379.19 352.28,379.49 352.79,379.79 C353.29,380.09 353.82,380.39 354.37,380.70 C354.92,381.00 355.49,381.31 356.08,381.62 C356.67,381.92 357.28,382.24 357.92,382.55 C358.56,382.86 359.22,383.18 359.91,383.50 C360.60,383.82 361.32,384.15 362.06,384.48 C362.81,384.80 363.58,385.14 364.39,385.47 C365.19,385.81 366.02,386.15 366.89,386.50 C367.76,386.84 368.66,387.19 369.60,387.55 C370.54,387.90 371.51,388.26 372.52,388.63 C373.53,389.00 374.58,389.37 375.67,389.75 C376.77,390.13 377.90,390.51 379.08,390.90 C380.26,391.29 381.48,391.69 382.76,392.09 C384.03,392.49 385.35,392.89 386.72,393.30 C388.10,393.71 389.52,394.12 391.01,394.53 C392.49,394.95 394.03,395.36 395.63,395.78 C397.24,396.20 398.90,396.62 400.63,397.04 C402.36,397.46 404.15,397.88 406.02,398.31 C407.89,398.73 409.82,399.15 411.84,399.57 C413.86,400.00 415.95,400.43 418.12,400.86 C420.30,401.30 422.56,401.74 424.91,402.20 C427.26,402.65 429.69,403.11 432.23,403.59 C434.77,404.07 437.40,404.57 440.14,405.07 C442.88,405.57 445.72,406.09 448.68,406.60 C451.63,407.11 454.70,407.63 457.89,408.13 C461.09,408.63 464.39,409.13 467.84,409.61 C471.29,410.08 474.86,410.54 478.58,410.97 C482.31,411.40 486.16,411.81 490.18,412.17 C494.20,412.53 500.61,412.98 502.70,413.14" fill="none" stroke="#c8142f" stroke-width="1.45" stroke-linejoin="round" stroke-linecap="round"/>
<line x1="332.90" y1="233.40" x2="332.90" y2="312.00" stroke="#d2455f" stroke-width="1.9" />
<line x1="337.10" y1="233.40" x2="346.80" y2="234.40" stroke="#4a4a4a" stroke-width="0.75" />
<text x="350.30" y="237.50" font-size="8.2" textLength="33.70" lengthAdjust="spacingAndGlyphs" >PTPN1 ***</text>
<line x1="336.50" y1="254.30" x2="346.80" y2="250.30" stroke="#4a4a4a" stroke-width="0.75" />
<text x="350.30" y="253.60" font-size="8.2" textLength="29.60" lengthAdjust="spacingAndGlyphs" >EPAS1 **</text>
<line x1="336.50" y1="262.40" x2="346.80" y2="266.60" stroke="#4a4a4a" stroke-width="0.75" />
<text x="350.30" y="269.80" font-size="8.2" textLength="30.20" lengthAdjust="spacingAndGlyphs" >PTPN2 **</text>
<line x1="337.00" y1="287.40" x2="347.00" y2="280.50" stroke="#4a4a4a" stroke-width="0.75" />
<text x="350.10" y="284.00" font-size="8.2" textLength="27.20" lengthAdjust="spacingAndGlyphs" >PTPRC *</text>
<line x1="337.00" y1="291.20" x2="347.00" y2="294.80" stroke="#4a4a4a" stroke-width="0.75" />
<text x="350.10" y="297.40" font-size="8.2" textLength="38.70" lengthAdjust="spacingAndGlyphs" >TIMMDC1 *</text>
<line x1="337.00" y1="302.00" x2="347.00" y2="306.20" stroke="#4a4a4a" stroke-width="0.75" />
<text x="350.10" y="309.40" font-size="8.2" textLength="24.90" lengthAdjust="spacingAndGlyphs" >KMT2C</text>
<line x1="336.20" y1="305.80" x2="347.00" y2="316.60" stroke="#4a4a4a" stroke-width="0.75" />
<text x="350.10" y="319.70" font-size="8.2" textLength="20.70" lengthAdjust="spacingAndGlyphs" >POTEI</text>
<line x1="336.00" y1="308.80" x2="347.00" y2="327.00" stroke="#4a4a4a" stroke-width="0.75" />
<text x="350.10" y="330.20" font-size="8.2" textLength="16.70" lengthAdjust="spacingAndGlyphs" >IPO5</text>
<line x1="335.80" y1="310.00" x2="347.00" y2="336.60" stroke="#4a4a4a" stroke-width="0.75" />
<text x="350.10" y="340.00" font-size="8.2" textLength="41.80" lengthAdjust="spacingAndGlyphs" >hsa-mir-6078</text>
<line x1="335.50" y1="311.00" x2="347.00" y2="347.00" stroke="#4a4a4a" stroke-width="0.75" />
<text x="350.10" y="350.50" font-size="8.2" textLength="21.80" lengthAdjust="spacingAndGlyphs" >STRAP</text>
<circle cx="332.90" cy="233.40" r="2.0" fill="#f26a5c"/>
<circle cx="332.90" cy="255.40" r="2.0" fill="#e0902a"/>
<circle cx="332.90" cy="261.00" r="2.0" fill="#94aa3a"/>
<circle cx="332.90" cy="287.60" r="2.0" fill="#2ab55a"/>
<circle cx="332.90" cy="290.60" r="2.0" fill="#3ab070"/>
<circle cx="332.90" cy="301.30" r="2.0" fill="#2aa8e8"/>
<circle cx="332.90" cy="304.60" r="2.0" fill="#8a86d2"/>
<circle cx="332.90" cy="308.60" r="2.0" fill="#e858a8"/>
<circle cx="332.90" cy="310.50" r="2.0" fill="#e860b0"/>
<text x="41.90" y="488.60" font-size="8.0" textLength="34.30" lengthAdjust="spacingAndGlyphs" >Crizotinib</text>
<line x1="35.80" y1="490.90" x2="81.50" y2="490.90" stroke="#333" stroke-width="0.9" />
<text x="98.60" y="488.60" font-size="8.0" textLength="14.10" lengthAdjust="spacingAndGlyphs" >Ctrl</text>
<line x1="90.00" y1="490.90" x2="122.00" y2="490.90" stroke="#333" stroke-width="0.9" />
<text x="141.30" y="488.60" font-size="8.0" textLength="28.90" lengthAdjust="spacingAndGlyphs" >sgRNA1</text>
<line x1="136.20" y1="490.90" x2="176.50" y2="490.90" stroke="#333" stroke-width="0.9" />
<text x="191.70" y="488.60" font-size="8.0" textLength="29.50" lengthAdjust="spacingAndGlyphs" >sgRNA2</text>
<line x1="186.00" y1="490.90" x2="226.30" y2="490.90" stroke="#333" stroke-width="0.9" />
<text x="164.80" y="472.20" font-size="8.0" textLength="24.00" lengthAdjust="spacingAndGlyphs" >PTPN1</text>
<line x1="161.50" y1="474.60" x2="192.30" y2="474.60" stroke="#333" stroke-width="0.9" />
<text x="80.40" y="502.10" font-size="8.0" text-anchor="end" textLength="20.60" lengthAdjust="spacingAndGlyphs" >80nM</text>
<text x="80.40" y="514.20" font-size="8.0" text-anchor="end" textLength="24.80" lengthAdjust="spacingAndGlyphs" >300nM</text>
<line x1="88.20" y1="498.40" x2="91.80" y2="498.40" stroke="#444" stroke-width="0.8" />
<line x1="88.20" y1="507.80" x2="91.80" y2="507.80" stroke="#444" stroke-width="0.8" />
<line x1="105.90" y1="498.40" x2="109.50" y2="498.40" stroke="#444" stroke-width="0.8" />
<line x1="107.70" y1="496.60" x2="107.70" y2="500.20" stroke="#444" stroke-width="0.8" />
<line x1="105.90" y1="507.80" x2="109.50" y2="507.80" stroke="#444" stroke-width="0.8" />
<line x1="120.30" y1="498.40" x2="123.90" y2="498.40" stroke="#444" stroke-width="0.8" />
<line x1="120.30" y1="507.80" x2="123.90" y2="507.80" stroke="#444" stroke-width="0.8" />
<line x1="122.10" y1="506.00" x2="122.10" y2="509.60" stroke="#444" stroke-width="0.8" />
<line x1="137.60" y1="498.40" x2="141.20" y2="498.40" stroke="#444" stroke-width="0.8" />
<line x1="137.60" y1="507.80" x2="141.20" y2="507.80" stroke="#444" stroke-width="0.8" />
<line x1="154.40" y1="498.40" x2="158.00" y2="498.40" stroke="#444" stroke-width="0.8" />
<line x1="156.20" y1="496.60" x2="156.20" y2="500.20" stroke="#444" stroke-width="0.8" />
<line x1="154.40" y1="507.80" x2="158.00" y2="507.80" stroke="#444" stroke-width="0.8" />
<line x1="169.70" y1="498.40" x2="173.30" y2="498.40" stroke="#444" stroke-width="0.8" />
<line x1="169.70" y1="507.80" x2="173.30" y2="507.80" stroke="#444" stroke-width="0.8" />
<line x1="171.50" y1="506.00" x2="171.50" y2="509.60" stroke="#444" stroke-width="0.8" />
<line x1="185.70" y1="498.40" x2="189.30" y2="498.40" stroke="#444" stroke-width="0.8" />
<line x1="185.70" y1="507.80" x2="189.30" y2="507.80" stroke="#444" stroke-width="0.8" />
<line x1="199.50" y1="498.40" x2="203.10" y2="498.40" stroke="#444" stroke-width="0.8" />
<line x1="201.30" y1="496.60" x2="201.30" y2="500.20" stroke="#444" stroke-width="0.8" />
<line x1="199.50" y1="507.80" x2="203.10" y2="507.80" stroke="#444" stroke-width="0.8" />
<line x1="214.90" y1="498.40" x2="218.50" y2="498.40" stroke="#444" stroke-width="0.8" />
<line x1="214.90" y1="507.80" x2="218.50" y2="507.80" stroke="#444" stroke-width="0.8" />
<line x1="216.70" y1="506.00" x2="216.70" y2="509.60" stroke="#444" stroke-width="0.8" />
<text x="229.20" y="511.80" font-size="8.0" textLength="18.80" lengthAdjust="spacingAndGlyphs" >(kDa)</text>
<text x="301.60" y="488.60" font-size="8.0" textLength="34.60" lengthAdjust="spacingAndGlyphs" >Crizotinib</text>
<line x1="301.20" y1="491.10" x2="336.50" y2="491.10" stroke="#333" stroke-width="0.9" />
<text x="350.30" y="488.60" font-size="8.0" textLength="12.70" lengthAdjust="spacingAndGlyphs" >Ctrl</text>
<line x1="340.40" y1="491.10" x2="372.70" y2="491.10" stroke="#333" stroke-width="0.9" />
<text x="392.10" y="488.60" font-size="8.0" textLength="28.90" lengthAdjust="spacingAndGlyphs" >sgRNA1</text>
<line x1="386.70" y1="491.10" x2="427.10" y2="491.10" stroke="#333" stroke-width="0.9" />
<text x="441.90" y="488.60" font-size="8.0" textLength="29.10" lengthAdjust="spacingAndGlyphs" >sgRNA2</text>
<line x1="437.10" y1="491.10" x2="476.40" y2="491.10" stroke="#333" stroke-width="0.9" />
<text x="415.00" y="471.80" font-size="8.0" textLength="24.80" lengthAdjust="spacingAndGlyphs" >PTPN2</text>
<line x1="412.30" y1="474.70" x2="443.30" y2="474.70" stroke="#333" stroke-width="0.9" />
<text x="336.20" y="502.40" font-size="8.0" text-anchor="end" textLength="20.60" lengthAdjust="spacingAndGlyphs" >80nM</text>
<text x="336.20" y="514.40" font-size="8.0" text-anchor="end" textLength="25.20" lengthAdjust="spacingAndGlyphs" >300nM</text>
<line x1="342.50" y1="498.30" x2="346.10" y2="498.30" stroke="#444" stroke-width="0.8" />
<line x1="342.50" y1="507.90" x2="346.10" y2="507.90" stroke="#444" stroke-width="0.8" />
<line x1="355.90" y1="498.30" x2="359.50" y2="498.30" stroke="#444" stroke-width="0.8" />
<line x1="357.70" y1="496.50" x2="357.70" y2="500.10" stroke="#444" stroke-width="0.8" />
<line x1="355.90" y1="507.90" x2="359.50" y2="507.90" stroke="#444" stroke-width="0.8" />
<line x1="370.90" y1="498.30" x2="374.50" y2="498.30" stroke="#444" stroke-width="0.8" />
<line x1="370.90" y1="507.90" x2="374.50" y2="507.90" stroke="#444" stroke-width="0.8" />
<line x1="372.70" y1="506.10" x2="372.70" y2="509.70" stroke="#444" stroke-width="0.8" />
<line x1="387.60" y1="498.30" x2="391.20" y2="498.30" stroke="#444" stroke-width="0.8" />
<line x1="387.60" y1="507.90" x2="391.20" y2="507.90" stroke="#444" stroke-width="0.8" />
<line x1="404.30" y1="498.30" x2="407.90" y2="498.30" stroke="#444" stroke-width="0.8" />
<line x1="406.10" y1="496.50" x2="406.10" y2="500.10" stroke="#444" stroke-width="0.8" />
<line x1="404.30" y1="507.90" x2="407.90" y2="507.90" stroke="#444" stroke-width="0.8" />
<line x1="419.90" y1="498.30" x2="423.50" y2="498.30" stroke="#444" stroke-width="0.8" />
<line x1="419.90" y1="507.90" x2="423.50" y2="507.90" stroke="#444" stroke-width="0.8" />
<line x1="421.70" y1="506.10" x2="421.70" y2="509.70" stroke="#444" stroke-width="0.8" />
<line x1="435.50" y1="498.30" x2="439.10" y2="498.30" stroke="#444" stroke-width="0.8" />
<line x1="435.50" y1="507.90" x2="439.10" y2="507.90" stroke="#444" stroke-width="0.8" />
<line x1="449.60" y1="498.30" x2="453.20" y2="498.30" stroke="#444" stroke-width="0.8" />
<line x1="451.40" y1="496.50" x2="451.40" y2="500.10" stroke="#444" stroke-width="0.8" />
<line x1="449.60" y1="507.90" x2="453.20" y2="507.90" stroke="#444" stroke-width="0.8" />
<line x1="465.20" y1="498.30" x2="468.80" y2="498.30" stroke="#444" stroke-width="0.8" />
<line x1="465.20" y1="507.90" x2="468.80" y2="507.90" stroke="#444" stroke-width="0.8" />
<line x1="467.00" y1="506.10" x2="467.00" y2="509.70" stroke="#444" stroke-width="0.8" />
<text x="479.60" y="511.60" font-size="8.0" textLength="18.90" lengthAdjust="spacingAndGlyphs" >(kDa)</text>
<rect x="83.0" y="527.5" width="142.2" height="3" fill="#ececec"/>
<rect x="83.0" y="558.5" width="142.2" height="3" fill="#ececec"/>
<rect x="83.50" y="514.90" width="141.20" height="12.60" fill="#dadada" stroke="#8e8e8e" stroke-width="0.9"/>
<rect x="83.50" y="530.50" width="141.20" height="8.80" fill="#dadada" stroke="#8e8e8e" stroke-width="0.9"/>
<rect x="83.50" y="548.80" width="141.20" height="9.70" fill="#dadada" stroke="#8e8e8e" stroke-width="0.9"/>
<rect x="83.50" y="561.50" width="141.20" height="8.60" fill="#dadada" stroke="#8e8e8e" stroke-width="0.9"/>
<rect x="338.7" y="527.5" width="137.1" height="3" fill="#ececec"/>
<rect x="338.7" y="559.5" width="137.1" height="3" fill="#ececec"/>
<rect x="339.20" y="515.10" width="136.10" height="12.30" fill="#dadada" stroke="#8e8e8e" stroke-width="0.9"/>
<rect x="339.20" y="530.50" width="136.10" height="7.90" fill="#dadada" stroke="#8e8e8e" stroke-width="0.9"/>
<rect x="339.20" y="549.30" width="136.10" height="10.20" fill="#dadada" stroke="#8e8e8e" stroke-width="0.9"/>
<rect x="339.20" y="562.10" width="136.10" height="8.50" fill="#dadada" stroke="#8e8e8e" stroke-width="0.9"/>
<text x="79.70" y="526.00" font-size="8.0" text-anchor="end" textLength="23.80" lengthAdjust="spacingAndGlyphs" >PTPN1</text>
<text x="79.80" y="538.40" font-size="8.0" text-anchor="end" textLength="25.50" lengthAdjust="spacingAndGlyphs" >β- actin</text>
<text x="79.70" y="557.90" font-size="8.0" text-anchor="end" textLength="23.80" lengthAdjust="spacingAndGlyphs" >PTPN1</text>
<text x="79.80" y="569.20" font-size="8.0" text-anchor="end" textLength="25.50" lengthAdjust="spacingAndGlyphs" >β- actin</text>
<line x1="51.30" y1="518.30" x2="51.30" y2="539.80" stroke="#333" stroke-width="1.1" />
<line x1="51.30" y1="549.60" x2="51.30" y2="584.60" stroke="#333" stroke-width="1.1" />
<text x="0" y="0" font-size="10.8" text-anchor="middle" fill="#444444" transform="translate(48.8,529.3) rotate(-90)" textLength="7.5" lengthAdjust="spacingAndGlyphs">TS</text>
<text x="0" y="0" font-size="10.2" text-anchor="middle" fill="#444444" transform="translate(48.5,567.6) rotate(-90)" textLength="30.8" lengthAdjust="spacingAndGlyphs">SU-DHL-1</text>
<line x1="225.10" y1="522.60" x2="233.00" y2="522.60" stroke="#666" stroke-width="0.9" />
<text x="236.00" y="525.60" font-size="8.0" textLength="8.60" lengthAdjust="spacingAndGlyphs" >50</text>
<line x1="225.10" y1="533.30" x2="233.00" y2="533.30" stroke="#666" stroke-width="0.9" />
<text x="236.00" y="536.30" font-size="8.0" textLength="8.60" lengthAdjust="spacingAndGlyphs" >42</text>
<line x1="225.10" y1="553.30" x2="233.00" y2="553.30" stroke="#666" stroke-width="0.9" />
<text x="236.00" y="556.30" font-size="8.0" textLength="8.60" lengthAdjust="spacingAndGlyphs" >50</text>
<line x1="225.10" y1="564.40" x2="233.00" y2="564.40" stroke="#666" stroke-width="0.9" />
<text x="236.00" y="567.40" font-size="8.0" textLength="8.60" lengthAdjust="spacingAndGlyphs" >42</text>
<text x="336.20" y="526.00" font-size="8.0" text-anchor="end" textLength="24.20" lengthAdjust="spacingAndGlyphs" >PTPN2</text>
<text x="336.20" y="538.30" font-size="8.0" text-anchor="end" textLength="33.90" lengthAdjust="spacingAndGlyphs" >β- tubulin</text>
<text x="336.20" y="557.60" font-size="8.0" text-anchor="end" textLength="24.20" lengthAdjust="spacingAndGlyphs" >PTPN2</text>
<text x="336.20" y="569.00" font-size="8.0" text-anchor="end" textLength="33.90" lengthAdjust="spacingAndGlyphs" >β- tubulin</text>
<line x1="299.30" y1="518.30" x2="299.30" y2="539.80" stroke="#333" stroke-width="1.1" />
<line x1="299.30" y1="550.00" x2="299.30" y2="585.00" stroke="#333" stroke-width="1.1" />
<text x="0" y="0" font-size="10.8" text-anchor="middle" fill="#444444" transform="translate(296.8,529.2) rotate(-90)" textLength="7.6" lengthAdjust="spacingAndGlyphs">TS</text>
<text x="0" y="0" font-size="10.2" text-anchor="middle" fill="#444444" transform="translate(296.6,566.6) rotate(-90)" textLength="32.4" lengthAdjust="spacingAndGlyphs">SU-DHL-1</text>
<line x1="475.50" y1="520.50" x2="483.60" y2="520.50" stroke="#666" stroke-width="0.9" />
<text x="486.20" y="523.20" font-size="8.0" textLength="8.80" lengthAdjust="spacingAndGlyphs" >42</text>
<line x1="475.50" y1="533.30" x2="483.60" y2="533.30" stroke="#666" stroke-width="0.9" />
<text x="486.20" y="536.00" font-size="8.0" textLength="8.80" lengthAdjust="spacingAndGlyphs" >50</text>
<line x1="475.50" y1="554.30" x2="483.60" y2="554.30" stroke="#666" stroke-width="0.9" />
<text x="486.20" y="557.00" font-size="8.0" textLength="8.80" lengthAdjust="spacingAndGlyphs" >42</text>
<line x1="475.50" y1="566.30" x2="483.60" y2="566.30" stroke="#666" stroke-width="0.9" />
<text x="486.20" y="569.00" font-size="8.0" textLength="8.80" lengthAdjust="spacingAndGlyphs" >50</text>
<rect x="84.90" y="519.75" width="11.00" height="2.70" rx="1.35" ry="1.35" fill="#444444" opacity="0.92" filter="url(#blur2)"/>
<rect x="83.90" y="533.20" width="13.00" height="4.40" rx="2.20" ry="2.20" fill="#444444" opacity="0.85" filter="url(#blur2)"/>
<rect x="84.15" y="550.80" width="12.50" height="4.60" rx="2.30" ry="2.30" fill="#444444" opacity="0.90" filter="url(#blur2)"/>
<rect x="84.15" y="563.20" width="12.50" height="4.00" rx="2.00" ry="2.00" fill="#444444" opacity="0.88" filter="url(#blur2)"/>
<rect x="100.20" y="520.15" width="11.00" height="2.70" rx="1.35" ry="1.35" fill="#444444" opacity="0.92" filter="url(#blur2)"/>
<rect x="99.70" y="533.20" width="12.00" height="4.40" rx="2.20" ry="2.20" fill="#444444" opacity="0.85" filter="url(#blur2)"/>
<rect x="99.45" y="550.80" width="12.50" height="4.60" rx="2.30" ry="2.30" fill="#444444" opacity="0.90" filter="url(#blur2)"/>
<rect x="99.45" y="563.20" width="12.50" height="4.00" rx="2.00" ry="2.00" fill="#444444" opacity="0.88" filter="url(#blur2)"/>
<rect x="116.50" y="520.95" width="11.00" height="2.70" rx="1.35" ry="1.35" fill="#444444" opacity="0.92" filter="url(#blur2)"/>
<rect x="116.00" y="533.20" width="12.00" height="4.40" rx="2.20" ry="2.20" fill="#444444" opacity="0.85" filter="url(#blur2)"/>
<rect x="115.75" y="550.80" width="12.50" height="4.60" rx="2.30" ry="2.30" fill="#444444" opacity="0.90" filter="url(#blur2)"/>
<rect x="115.75" y="563.20" width="12.50" height="4.00" rx="2.00" ry="2.00" fill="#444444" opacity="0.88" filter="url(#blur2)"/>
<rect x="133.30" y="521.20" width="10.00" height="1.60" rx="0.80" ry="0.80" fill="#444444" opacity="0.04" filter="url(#blur2)"/>
<rect x="132.30" y="533.20" width="12.00" height="4.40" rx="2.20" ry="2.20" fill="#444444" opacity="0.85" filter="url(#blur2)"/>
<rect x="133.80" y="552.30" width="11.00" height="2.20" rx="1.10" ry="1.10" fill="#444444" opacity="0.30" filter="url(#blur2)"/>
<rect x="132.05" y="564.50" width="12.50" height="4.00" rx="2.00" ry="2.00" fill="#444444" opacity="0.88" filter="url(#blur2)"/>
<rect x="150.70" y="521.20" width="10.00" height="1.60" rx="0.80" ry="0.80" fill="#444444" opacity="0.04" filter="url(#blur2)"/>
<rect x="149.70" y="533.20" width="12.00" height="4.40" rx="2.20" ry="2.20" fill="#444444" opacity="0.85" filter="url(#blur2)"/>
<rect x="150.70" y="552.60" width="10.00" height="2.00" rx="1.00" ry="1.00" fill="#444444" opacity="0.12" filter="url(#blur2)"/>
<rect x="149.45" y="564.50" width="12.50" height="4.00" rx="2.00" ry="2.00" fill="#444444" opacity="0.88" filter="url(#blur2)"/>
<rect x="166.90" y="521.20" width="10.00" height="1.60" rx="0.80" ry="0.80" fill="#444444" opacity="0.04" filter="url(#blur2)"/>
<rect x="165.90" y="533.20" width="12.00" height="4.40" rx="2.20" ry="2.20" fill="#444444" opacity="0.85" filter="url(#blur2)"/>
<rect x="166.90" y="552.60" width="10.00" height="2.00" rx="1.00" ry="1.00" fill="#444444" opacity="0.12" filter="url(#blur2)"/>
<rect x="165.65" y="563.20" width="12.50" height="4.00" rx="2.00" ry="2.00" fill="#444444" opacity="0.88" filter="url(#blur2)"/>
<rect x="182.20" y="521.20" width="10.00" height="1.60" rx="0.80" ry="0.80" fill="#444444" opacity="0.04" filter="url(#blur2)"/>
<rect x="181.20" y="533.20" width="12.00" height="4.40" rx="2.20" ry="2.20" fill="#444444" opacity="0.85" filter="url(#blur2)"/>
<rect x="182.20" y="552.60" width="10.00" height="2.00" rx="1.00" ry="1.00" fill="#444444" opacity="0.12" filter="url(#blur2)"/>
<rect x="180.95" y="563.20" width="12.50" height="4.00" rx="2.00" ry="2.00" fill="#444444" opacity="0.88" filter="url(#blur2)"/>
<rect x="197.60" y="521.20" width="10.00" height="1.60" rx="0.80" ry="0.80" fill="#444444" opacity="0.04" filter="url(#blur2)"/>
<rect x="196.60" y="533.20" width="12.00" height="4.40" rx="2.20" ry="2.20" fill="#444444" opacity="0.85" filter="url(#blur2)"/>
<rect x="197.60" y="552.60" width="10.00" height="2.00" rx="1.00" ry="1.00" fill="#444444" opacity="0.12" filter="url(#blur2)"/>
<rect x="196.35" y="563.20" width="12.50" height="4.00" rx="2.00" ry="2.00" fill="#444444" opacity="0.88" filter="url(#blur2)"/>
<rect x="212.40" y="521.20" width="10.00" height="1.60" rx="0.80" ry="0.80" fill="#444444" opacity="0.04" filter="url(#blur2)"/>
<rect x="211.40" y="531.40" width="12.00" height="4.40" rx="2.20" ry="2.20" fill="#444444" opacity="0.85" filter="url(#blur2)"/>
<rect x="212.40" y="552.60" width="10.00" height="2.00" rx="1.00" ry="1.00" fill="#444444" opacity="0.12" filter="url(#blur2)"/>
<rect x="211.15" y="563.20" width="12.50" height="4.00" rx="2.00" ry="2.00" fill="#444444" opacity="0.88" filter="url(#blur2)"/>
<rect x="340.00" y="520.35" width="11.00" height="3.70" rx="1.85" ry="1.85" fill="#444444" opacity="0.92" filter="url(#blur2)"/>
<rect x="338.90" y="532.20" width="13.20" height="4.40" rx="2.20" ry="2.20" fill="#444444" opacity="0.88" filter="url(#blur2)"/>
<rect x="339.75" y="550.50" width="11.50" height="2.80" rx="1.40" ry="1.40" fill="#444444" opacity="0.85" filter="url(#blur2)"/>
<rect x="339.75" y="554.00" width="11.50" height="3.20" rx="1.60" ry="1.60" fill="#444444" opacity="0.90" filter="url(#blur2)"/>
<rect x="338.90" y="564.70" width="13.20" height="4.40" rx="2.20" ry="2.20" fill="#444444" opacity="0.88" filter="url(#blur2)"/>
<rect x="354.80" y="520.35" width="11.00" height="3.70" rx="1.85" ry="1.85" fill="#444444" opacity="0.92" filter="url(#blur2)"/>
<rect x="353.70" y="532.20" width="13.20" height="4.40" rx="2.20" ry="2.20" fill="#444444" opacity="0.88" filter="url(#blur2)"/>
<rect x="354.55" y="550.50" width="11.50" height="2.80" rx="1.40" ry="1.40" fill="#444444" opacity="0.85" filter="url(#blur2)"/>
<rect x="354.55" y="554.00" width="11.50" height="3.20" rx="1.60" ry="1.60" fill="#444444" opacity="0.90" filter="url(#blur2)"/>
<rect x="353.70" y="564.70" width="13.20" height="4.40" rx="2.20" ry="2.20" fill="#444444" opacity="0.88" filter="url(#blur2)"/>
<rect x="370.30" y="520.35" width="11.00" height="3.70" rx="1.85" ry="1.85" fill="#444444" opacity="0.92" filter="url(#blur2)"/>
<rect x="369.20" y="532.20" width="13.20" height="4.40" rx="2.20" ry="2.20" fill="#444444" opacity="0.88" filter="url(#blur2)"/>
<rect x="370.05" y="550.50" width="11.50" height="2.80" rx="1.40" ry="1.40" fill="#444444" opacity="0.85" filter="url(#blur2)"/>
<rect x="370.05" y="554.00" width="11.50" height="3.20" rx="1.60" ry="1.60" fill="#444444" opacity="0.90" filter="url(#blur2)"/>
<rect x="369.20" y="564.70" width="13.20" height="4.40" rx="2.20" ry="2.20" fill="#444444" opacity="0.88" filter="url(#blur2)"/>
<rect x="387.50" y="521.20" width="10.00" height="1.60" rx="0.80" ry="0.80" fill="#444444" opacity="0.04" filter="url(#blur2)"/>
<rect x="385.90" y="532.20" width="13.20" height="4.40" rx="2.20" ry="2.20" fill="#444444" opacity="0.88" filter="url(#blur2)"/>
<rect x="387.50" y="550.50" width="10.00" height="2.00" rx="1.00" ry="1.00" fill="#444444" opacity="0.30" filter="url(#blur2)"/>
<rect x="387.50" y="554.35" width="10.00" height="1.90" rx="0.95" ry="0.95" fill="#444444" opacity="0.08" filter="url(#blur2)"/>
<rect x="385.90" y="564.70" width="13.20" height="4.40" rx="2.20" ry="2.20" fill="#444444" opacity="0.88" filter="url(#blur2)"/>
<rect x="403.80" y="521.20" width="10.00" height="1.60" rx="0.80" ry="0.80" fill="#444444" opacity="0.04" filter="url(#blur2)"/>
<rect x="402.20" y="532.20" width="13.20" height="4.40" rx="2.20" ry="2.20" fill="#444444" opacity="0.88" filter="url(#blur2)"/>
<rect x="403.80" y="550.50" width="10.00" height="2.00" rx="1.00" ry="1.00" fill="#444444" opacity="0.45" filter="url(#blur2)"/>
<rect x="403.80" y="554.35" width="10.00" height="1.90" rx="0.95" ry="0.95" fill="#444444" opacity="0.15" filter="url(#blur2)"/>
<rect x="402.20" y="564.70" width="13.20" height="4.40" rx="2.20" ry="2.20" fill="#444444" opacity="0.88" filter="url(#blur2)"/>
<rect x="419.60" y="521.20" width="10.00" height="1.60" rx="0.80" ry="0.80" fill="#444444" opacity="0.04" filter="url(#blur2)"/>
<rect x="418.00" y="532.20" width="13.20" height="4.40" rx="2.20" ry="2.20" fill="#444444" opacity="0.88" filter="url(#blur2)"/>
<rect x="419.60" y="550.50" width="10.00" height="2.00" rx="1.00" ry="1.00" fill="#444444" opacity="0.75" filter="url(#blur2)"/>
<rect x="419.60" y="554.35" width="10.00" height="1.90" rx="0.95" ry="0.95" fill="#444444" opacity="0.20" filter="url(#blur2)"/>
<rect x="418.00" y="564.70" width="13.20" height="4.40" rx="2.20" ry="2.20" fill="#444444" opacity="0.88" filter="url(#blur2)"/>
<rect x="434.20" y="521.00" width="10.00" height="1.60" rx="0.80" ry="0.80" fill="#444444" opacity="0.75" filter="url(#blur2)"/>
<rect x="432.60" y="532.20" width="13.20" height="4.40" rx="2.20" ry="2.20" fill="#444444" opacity="0.88" filter="url(#blur2)"/>
<rect x="434.20" y="550.50" width="10.00" height="2.00" rx="1.00" ry="1.00" fill="#444444" opacity="0.80" filter="url(#blur2)"/>
<rect x="434.20" y="554.35" width="10.00" height="1.90" rx="0.95" ry="0.95" fill="#444444" opacity="0.70" filter="url(#blur2)"/>
<rect x="432.60" y="564.70" width="13.20" height="4.40" rx="2.20" ry="2.20" fill="#444444" opacity="0.88" filter="url(#blur2)"/>
<rect x="449.00" y="521.00" width="10.00" height="1.60" rx="0.80" ry="0.80" fill="#444444" opacity="0.75" filter="url(#blur2)"/>
<rect x="447.40" y="532.20" width="13.20" height="4.40" rx="2.20" ry="2.20" fill="#444444" opacity="0.88" filter="url(#blur2)"/>
<rect x="449.00" y="550.50" width="10.00" height="2.00" rx="1.00" ry="1.00" fill="#444444" opacity="0.80" filter="url(#blur2)"/>
<rect x="449.00" y="554.35" width="10.00" height="1.90" rx="0.95" ry="0.95" fill="#444444" opacity="0.70" filter="url(#blur2)"/>
<rect x="447.40" y="564.70" width="13.20" height="4.40" rx="2.20" ry="2.20" fill="#444444" opacity="0.88" filter="url(#blur2)"/>
<rect x="463.60" y="520.40" width="10.00" height="1.60" rx="0.80" ry="0.80" fill="#444444" opacity="0.75" filter="url(#blur2)"/>
<rect x="462.00" y="532.20" width="13.20" height="4.40" rx="2.20" ry="2.20" fill="#444444" opacity="0.88" filter="url(#blur2)"/>
<rect x="463.60" y="550.50" width="10.00" height="2.00" rx="1.00" ry="1.00" fill="#444444" opacity="0.85" filter="url(#blur2)"/>
<rect x="463.60" y="554.35" width="10.00" height="1.90" rx="0.95" ry="0.95" fill="#444444" opacity="0.75" filter="url(#blur2)"/>
<rect x="462.00" y="564.70" width="13.20" height="4.40" rx="2.20" ry="2.20" fill="#444444" opacity="0.88" filter="url(#blur2)"/>
<rect x="0" y="0" width="520" height="1.1" fill="#161616"/>
<rect x="0" y="0" width="1.1" height="592" fill="#161616"/>
<rect x="518.8" y="0" width="1.2" height="592" fill="#161616"/>
<rect x="0" y="590.1" width="520" height="1.9" fill="#161616"/>
</svg>
</body></html>
